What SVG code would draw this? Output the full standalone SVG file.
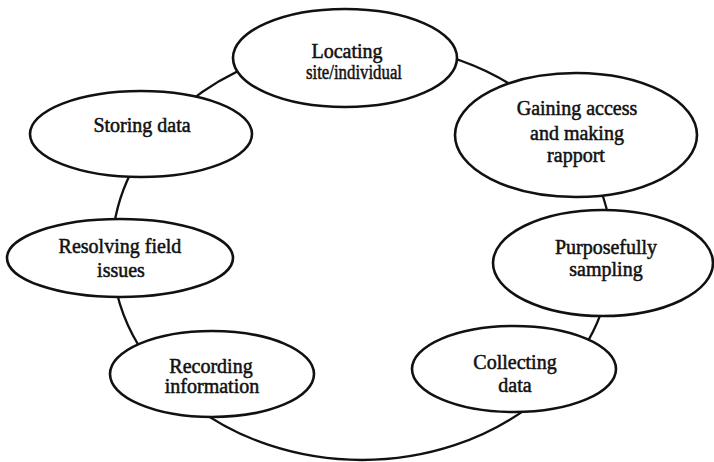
<svg xmlns="http://www.w3.org/2000/svg" width="714" height="462" viewBox="0 0 714 462">
<style>
.node ellipse{fill:#fff;stroke:#111;stroke-width:2.6}
.conn path{fill:none;stroke:#111;stroke-width:2.3}
text{font-family:"Liberation Serif","Times New Roman",serif;font-size:20px;text-anchor:middle;fill:#111;stroke:#111;stroke-width:0.5}
</style>
<rect width="714" height="462" fill="#fff"/>
<g id="connectors" class="conn">
<path d="M405.41 47.16 A250 208 0 0 1 538.78 104.92"/>
<path d="M596.92 180.86 A250 208 0 0 1 611.05 270.13"/>
<path d="M603.48 305.83 A250 208 0 0 1 566.79 371.30"/>
<path d="M529.28 406.57 A250 208 0 0 1 194.72 406.57"/>
<path d="M145.49 356 A250 208 0 0 1 112.95 270.13"/>
<path d="M112.95 233.87 A250 208 0 0 1 135.42 164.10"/>
<path d="M185.22 104.92 A250 208 0 0 1 297.30 51.09"/>
</g>
<g id="locating" class="node">
<ellipse cx="345" cy="58" rx="112" ry="49"/>
<text x="347" y="58">Locating</text>
<text x="354" y="79" textLength="96" lengthAdjust="spacingAndGlyphs">site/individual</text>
</g>
<g id="gaining" class="node">
<ellipse cx="576" cy="135" rx="121" ry="62"/>
<text x="577" y="115">Gaining access</text>
<text x="577" y="140">and making</text>
<text x="576" y="162">rapport</text>
</g>
<g id="purposefully" class="node">
<ellipse cx="603" cy="263" rx="110" ry="53"/>
<text x="606" y="254">Purposefully</text>
<text x="606" y="276">sampling</text>
</g>
<g id="collecting" class="node">
<ellipse cx="514" cy="369" rx="102" ry="43"/>
<text x="515" y="369">Collecting</text>
<text x="515" y="392">data</text>
</g>
<g id="recording" class="node">
<ellipse cx="212" cy="374" rx="102" ry="43"/>
<text x="211" y="373">Recording</text>
<text x="212" y="393">information</text>
</g>
<g id="resolving" class="node">
<ellipse cx="120" cy="258" rx="113" ry="39"/>
<text x="120" y="253">Resolving field</text>
<text x="121" y="277">issues</text>
</g>
<g id="storing" class="node">
<ellipse cx="141" cy="134" rx="111" ry="43"/>
<text x="142" y="132">Storing data</text>
</g>
</svg>
